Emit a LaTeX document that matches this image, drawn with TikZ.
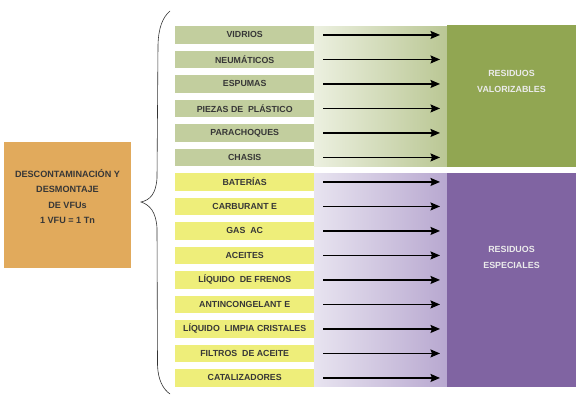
\documentclass[tikz,border=0pt]{standalone}
\usepackage{fontspec}
\setmainfont{Liberation Sans}
\usetikzlibrary{arrows.meta}
\definecolor{rowgreen}{RGB}{194,206,158}
\definecolor{rowyellow}{RGB}{238,238,122}
\definecolor{boxgreen}{RGB}{145,166,82}
\definecolor{boxpurple}{RGB}{128,100,162}
\definecolor{boxorange}{RGB}{225,170,92}
\definecolor{gradgreenL}{RGB}{236,240,224}
\definecolor{gradgreenR}{RGB}{186,199,148}
\definecolor{gradpurpL}{RGB}{232,228,240}
\definecolor{gradpurpR}{RGB}{184,168,208}
\definecolor{txt}{RGB}{55,55,55}
\tikzset{
  rowbox/.style={draw=none, minimum width=139pt, minimum height=17.5pt, inner sep=0pt,
    font=\fontsize{8.8}{10}\selectfont\bfseries, text=txt, anchor=north west},
  gbox/.style={rowbox, fill=rowgreen},
  ybox/.style={rowbox, fill=rowyellow},
  arr/.style={line width=1.2pt, -{Stealth[length=9.5pt,width=8pt,inset=1.5pt]}, shorten >=7pt},
  bigtext/.style={font=\fontsize{8.9}{16}\selectfont\bfseries, text=white!92!black, align=center}
}
\begin{document}
\begin{tikzpicture}[x=1pt,y=-1pt]
\useasboundingbox[fill=white] (0,0) rectangle (578,410);
% gradient bands
\shade[left color=gradgreenL, right color=gradgreenR] (314,26) rectangle (447,166.5);
\shade[left color=gradpurpL, right color=gradpurpR] (314,173) rectangle (447,386.5);
% right boxes
\node[fill=boxgreen, minimum width=129pt, minimum height=142pt, inner sep=0pt, anchor=north west] (vb) at (447,25) {};
\node[bigtext] (vt) at (511.5,81) {RESIDUOS\\VALORIZABLES};
\node[fill=boxpurple, minimum width=129pt, minimum height=214pt, inner sep=0pt, anchor=north west] (eb) at (447,173) {};
\node[bigtext] (et) at (511.5,257.5) {RESIDUOS\\ESPECIALES};
% left box
\node[fill=boxorange, minimum width=127pt, minimum height=126pt, inner sep=0pt] (src) at (67.5,204.5) {};
\node[font=\fontsize{9.1}{15.5}\selectfont\bfseries, text=txt, align=center] (srct) at (67.5,196.5)
  {DESCONTAMINACIÓN Y\\DESMONTAJE\\DE VFUs\\1 VFU = 1 Tn};
% rows
\node[gbox] (r1) at (175,26.0) {VIDRIOS};
\node[gbox] (r2) at (175,50.5) {NEUMÁTICOS};
\node[gbox] (r3) at (175,75.0) {ESPUMAS};
\node[gbox] (r4) at (175,99.5) {PIEZAS DE \ PLÁSTICO};
\node[gbox] (r5) at (175,124.0) {PARACHOQUES};
\node[gbox] (r6) at (175,148.5) {CHASIS};
\node[ybox] (r7) at (175,173.0) {BATERÍAS};
\node[ybox] (r8) at (175,197.5) {CARBURANT E};
\node[ybox] (r9) at (175,222.0) {GAS \ AC};
\node[ybox] (r10) at (175,246.5) {ACEITES};
\node[ybox] (r11) at (175,271.0) {LÍQUIDO \ DE FRENOS};
\node[ybox] (r12) at (175,295.5) {ANTINCONGELANT E};
\node[ybox] (r13) at (175,320.0) {LÍQUIDO \ LIMPIA CRISTALES};
\node[ybox] (r14) at (175,344.5) {FILTROS \ DE ACEITE};
\node[ybox] (r15) at (175,369.0) {CATALIZADORES};
% arrows
\foreach \i in {1,...,6} {\draw[arr] ([xshift=9pt]r\i.east) -- (r\i.east -| vb.west);}
\foreach \i in {7,...,15} {\draw[arr] ([xshift=9pt]r\i.east) -- (r\i.east -| eb.west);}
% brace
\draw[line width=0.6pt, black!80] (170,11) .. controls (163,17) and (158.5,27) .. (158,45)
  -- (157,178) .. controls (156,194) and (150,200) .. (141,202)
  .. controls (150,205) and (156,212) .. (157,228)
  -- (157.5,365) .. controls (158,380) and (163,389) .. (170,394);
\end{tikzpicture}
\end{document}
